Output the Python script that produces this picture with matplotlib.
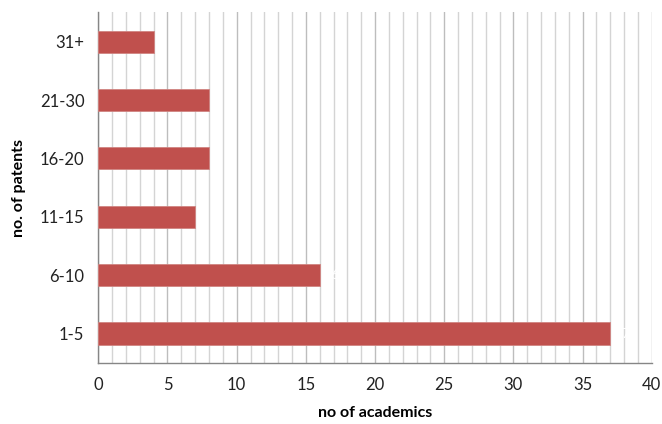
import matplotlib
matplotlib.use("Agg")
import matplotlib.pyplot as plt
from matplotlib.ticker import MultipleLocator

categories = ["1-5", "6-10", "11-15", "16-20", "21-30", "31+"]
values = [37, 16, 7, 8, 8, 4]
xticks = [0, 5, 10, 15, 20, 25, 30, 35, 40]

plt.rcParams['font.family'] = ['Lato', 'DejaVu Sans']

fig = plt.figure(figsize=(6.62, 4.24), dpi=100)
ax = fig.add_axes([0.1485, 0.1446, 0.836, 0.826])

ypos = list(range(len(categories)))
ax.barh(ypos, values, height=0.38, color="#C0504D", edgecolor="#D08582", linewidth=0.6, zorder=3)
for y, v in zip(ypos, values):
    ax.text(v + 0.3, y, str(v), color="white", va="center", ha="left", fontsize=10, zorder=4)

ax.set_xlim(0, 40)
ax.set_ylim(-0.5, len(categories) - 0.5)
ax.set_xticks(xticks)
ax.set_xticklabels([str(t) for t in xticks], fontsize=12, color="#222222")
ax.xaxis.set_minor_locator(MultipleLocator(1))
ax.set_yticks(ypos)
ax.set_yticklabels(categories, fontsize=12, color="#222222")
ax.tick_params(axis="both", which="both", length=0, pad=10)

ax.grid(axis="x", which="major", color="#BDBDBD", linewidth=1.0, zorder=0)
ax.grid(axis="x", which="minor", color="#D4D4D4", linewidth=1.0, zorder=0)
ax.grid(axis="y", visible=False)

for s in ["top", "right"]:
    ax.spines[s].set_visible(False)
for s in ["left", "bottom"]:
    ax.spines[s].set_color("#868686")
    ax.spines[s].set_linewidth(1.0)

ax.set_xlabel("no of academics", fontsize=11.5, fontweight="bold", labelpad=10)
ax.set_ylabel("no. of patents", fontsize=11.5, fontweight="bold", labelpad=10)

fig.savefig("out.png", dpi=100)
